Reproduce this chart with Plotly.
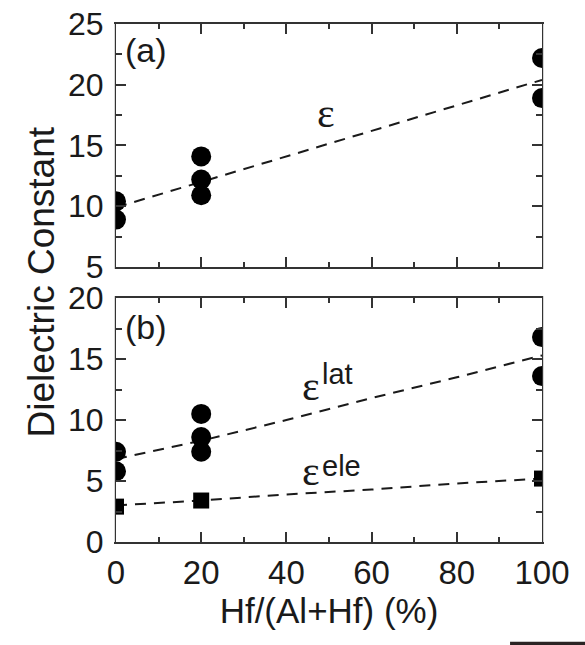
import plotly.graph_objects as go

# ---- data ----
hf_pct_a = [0, 0, 20, 20, 20, 100, 100]
eps_total = [10.4, 8.9, 14.1, 12.2, 10.9, 22.2, 18.9]
fit_x = [0, 20, 40, 60, 80, 100]
eps_total_fit = [9.9, 12.0, 14.1, 16.2, 18.3, 20.4]

hf_pct_lat = [0, 0, 20, 20, 20, 100, 100]
eps_lat = [7.4, 5.8, 10.5, 8.6, 7.4, 16.8, 13.6]
eps_lat_fit = [6.8, 8.3, 10.0, 11.8, 13.5, 15.3]

hf_pct_ele = [0, 20, 100]
eps_ele = [2.9, 3.4, 5.2]
eps_ele_fit = [3.0, 3.4, 3.9, 4.3, 4.8, 5.2]

x_ticks = [0, 20, 40, 60, 80, 100]
y_ticks_a = [5, 10, 15, 20, 25]
y_ticks_b = [0, 5, 10, 15, 20]

INK = "#1a1a1a"
AX = "#333333"
SANS = "Liberation Sans, Arial, sans-serif"
SERIF = "Liberation Serif, Times New Roman, serif"
dash = "11px,8px"

fig = go.Figure()

# panel (a)
fig.add_trace(go.Scatter(x=fit_x, y=eps_total_fit, mode="lines",
                         line=dict(color=INK, width=2, dash=dash),
                         xaxis="x", yaxis="y", showlegend=False))
fig.add_trace(go.Scatter(x=hf_pct_a, y=eps_total, mode="markers",
                         marker=dict(symbol="circle", size=20, color="black"),
                         xaxis="x", yaxis="y", showlegend=False))

# panel (b)
fig.add_trace(go.Scatter(x=fit_x, y=eps_lat_fit, mode="lines",
                         line=dict(color=INK, width=2, dash=dash),
                         xaxis="x2", yaxis="y2", showlegend=False))
fig.add_trace(go.Scatter(x=fit_x, y=eps_ele_fit, mode="lines",
                         line=dict(color=INK, width=2, dash=dash),
                         xaxis="x2", yaxis="y2", showlegend=False))
fig.add_trace(go.Scatter(x=hf_pct_lat, y=eps_lat, mode="markers",
                         marker=dict(symbol="circle", size=20, color="black"),
                         xaxis="x2", yaxis="y2", showlegend=False))
fig.add_trace(go.Scatter(x=hf_pct_ele, y=eps_ele, mode="markers",
                         marker=dict(symbol="square", size=16, color="black"),
                         xaxis="x2", yaxis="y2", showlegend=False))

common_axis = dict(showline=True, linecolor=AX, linewidth=2, mirror="allticks",
                   ticks="inside", tickcolor=AX, tickwidth=1.5, automargin=False,
                   showgrid=False, zeroline=False,
                   tickfont=dict(family=SANS, size=32, color=INK))
minor_x = dict(dtick=10, tick0=0, ticklen=5, ticks="inside", tickcolor=AX, tickwidth=1.5)
minor_y = dict(dtick=2.5, tick0=0, ticklen=6, ticks="inside", tickcolor=AX, tickwidth=1.5)

fig.update_layout(
    width=585, height=645,
    margin=dict(l=116, r=43, t=24, b=103),
    paper_bgcolor="white", plot_bgcolor="white",
    xaxis=dict(common_axis, domain=[0, 1], anchor="y", range=[0, 100],
               tickvals=x_ticks, ticklen=10, showticklabels=False, minor=minor_x),
    yaxis=dict(common_axis, domain=[0.531, 1], anchor="x", range=[5, 25],
               tickvals=y_ticks_a, ticklen=10, ticklabelstandoff=4, minor=minor_y),
    xaxis2=dict(common_axis, domain=[0, 1], anchor="y2", range=[0, 100],
                tickvals=x_ticks, ticklen=10, minor=minor_x,
                tickfont=dict(family=SANS, size=33, color=INK),
                title=dict(text="Hf/(Al+Hf) (%)", font=dict(family=SANS, size=35, color=INK), standoff=5)),
    yaxis2=dict(common_axis, domain=[0, 0.471], anchor="x2", range=[0, 20],
                tickvals=y_ticks_b, ticklen=10, ticklabelstandoff=4, minor=minor_y),
)

annos = [
    dict(text="(a)", x=7, y=22.9, xref="x", yref="y", showarrow=False,
         font=dict(family=SANS, size=34, color=INK)),
    dict(text="ε", x=49.3, y=17.7, xref="x", yref="y", showarrow=False,
         font=dict(family=SERIF, size=42, color=INK)),
    dict(text="(b)", x=7, y=17.6, xref="x2", yref="y2", showarrow=False,
         font=dict(family=SANS, size=34, color=INK)),
    dict(text="ε", x=45.8, y=12.8, xref="x2", yref="y2", showarrow=False,
         font=dict(family=SERIF, size=42, color=INK)),
    dict(text="lat", x=47.9, y=13.75, xref="x2", yref="y2", showarrow=False,
         xanchor="left", font=dict(family=SANS, size=29, color=INK)),
    dict(text="ε", x=45.8, y=5.8, xref="x2", yref="y2", showarrow=False,
         font=dict(family=SERIF, size=42, color=INK)),
    dict(text="ele", x=47.9, y=6.25, xref="x2", yref="y2", showarrow=False,
         xanchor="left", font=dict(family=SANS, size=29, color=INK)),
    dict(text="Dielectric Constant", x=-0.176, y=0.501, xref="paper", yref="paper",
         textangle=-90, showarrow=False, xanchor="center", yanchor="middle",
         font=dict(family=SANS, size=37, color=INK)),
]
fig.update_layout(annotations=annos)

# white masks just outside the frame so edge markers look cut by the axes
fig.add_shape(type="rect", xref="paper", yref="paper", layer="above",
              x0=-10.5 / 426, x1=-1.2 / 426, y0=0, y1=1,
              fillcolor="white", line=dict(width=0))
fig.add_shape(type="rect", xref="paper", yref="paper", layer="above",
              x0=1 + 1.2 / 426, x1=1 + 14 / 426, y0=0, y1=1,
              fillcolor="white", line=dict(width=0))

fig.add_shape(type="rect", xref="paper", yref="paper",
              x0=0.925, x1=1.12, y0=-0.2045, y1=-0.1925,
              fillcolor="#2b2424", line=dict(width=0))

fig.write_html("out.html", config={"displayModeBar": False},
               post_script="document.body.style.margin='0';")
